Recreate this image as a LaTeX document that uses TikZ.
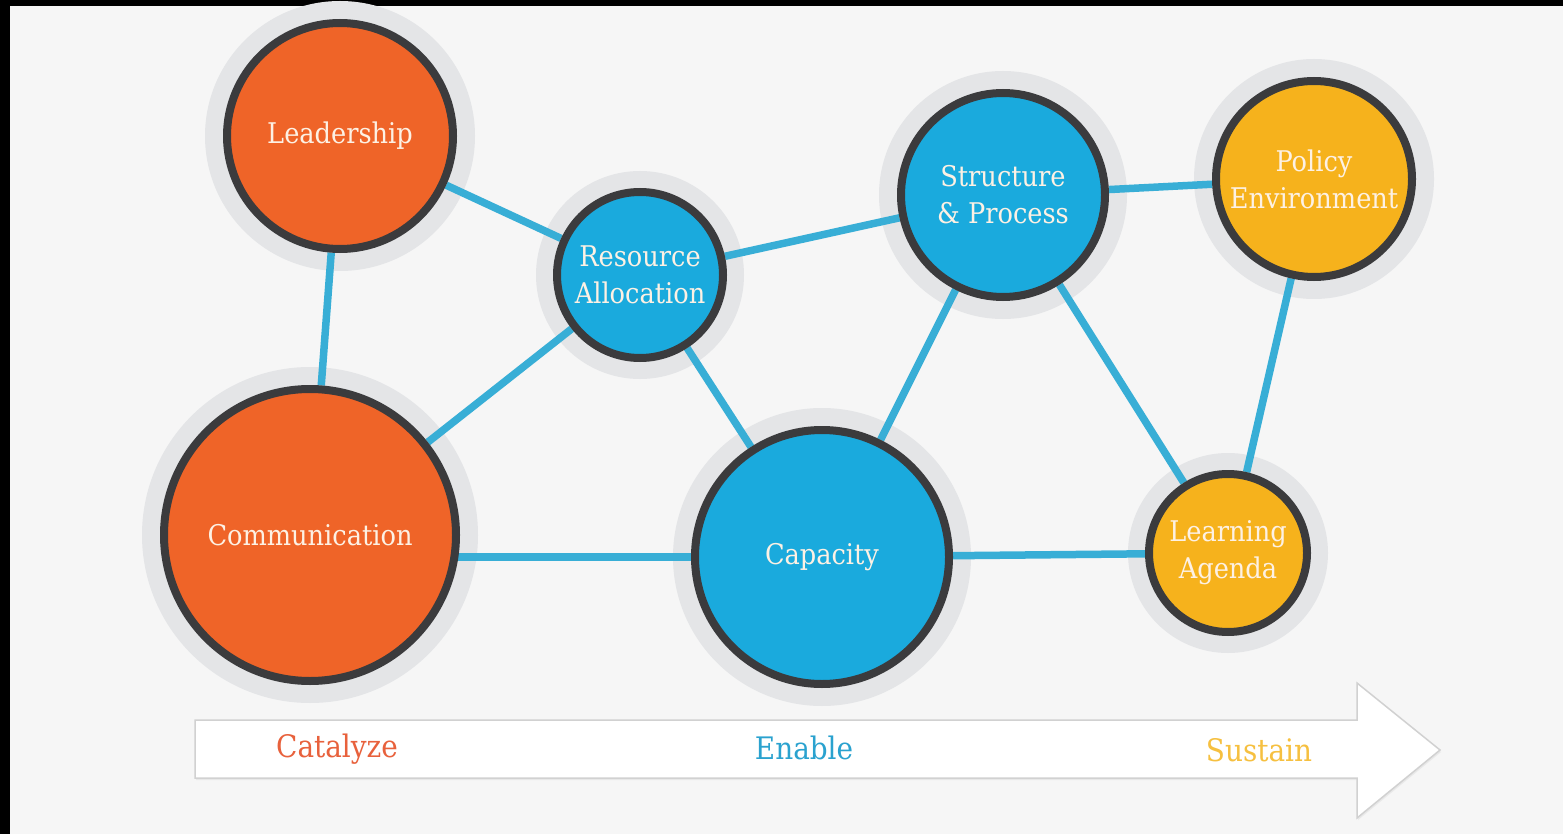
\documentclass[tikz,border=0pt]{standalone}
\usepackage{fontspec}
\newfontfamily\slab{DejaVu Serif Condensed}
\usetikzlibrary{shadows}
\definecolor{bg}{HTML}{F6F6F6}
\definecolor{orng}{HTML}{EF6428}
\definecolor{blu}{HTML}{1AAADD}
\definecolor{yel}{HTML}{F6B21C}
\definecolor{ring}{HTML}{3B3B3D}
\definecolor{link}{HTML}{38AED6}
\definecolor{haloc}{HTML}{E4E5E7}
\definecolor{txt}{HTML}{FDF1E4}
\definecolor{catc}{HTML}{E8613C}
\definecolor{enc}{HTML}{2AA2CF}
\definecolor{susc}{HTML}{F6C040}
\pgfdeclarelayer{bgl}
\pgfdeclarelayer{halo}
\pgfdeclarelayer{edges}
\pgfsetlayers{bgl,halo,edges,main}
\tikzset{
  hub/.style={circle, draw=ring, line width=8pt, inner sep=0pt, align=center,
    text=txt, font=\slab\fontsize{28.5}{37}\selectfont},
  link/.style={draw=link, line width=7.5pt},
  haloring/.style={fill=haloc},
  stage/.style={font=\slab\fontsize{31}{36}\selectfont}
}
\begin{document}
\begin{tikzpicture}[x=1pt,y=-1pt]
\useasboundingbox (0,0) rectangle (1563,834);
\begin{pgfonlayer}{bgl}
\fill[bg] (0,0) rectangle (1563,834);
\fill[black] (0,0) rectangle (1563,6);
\fill[black] (0,0) rectangle (10,834);
\end{pgfonlayer}

% nodes
\node[hub, fill=orng, minimum size=226pt] (lead) at (340,136) {Leadership};
\node[hub, fill=blu, minimum size=166pt] (res) at (640,275) {Resource\\Allocation};
\node[hub, fill=blu, minimum size=204pt] (str) at (1003,195) {Structure\\\& Process};
\node[hub, fill=yel, minimum size=196pt] (pol) at (1314,179) {Policy\\Environment};
\node[hub, fill=orng, minimum size=292pt] (comm) at (310,535) {Communication};
\node[hub, fill=blu, minimum size=254pt] (cap) at (822,557) {Capacity};
\node[hub, fill=yel, minimum size=158pt] (learn) at (1228,553) {Learning\\Agenda};

\begin{pgfonlayer}{halo}
  \fill[haloring] (lead.center) circle (135);
  \fill[haloring] (res.center) circle (104);
  \fill[haloring] (str.center) circle (124);
  \fill[haloring] (pol.center) circle (120);
  \fill[haloring] (comm.center) circle (168);
  \fill[haloring] (cap.center) circle (149);
  \fill[haloring] (learn.center) circle (100);
\end{pgfonlayer}

\begin{pgfonlayer}{edges}
  \draw[link] (lead) -- (comm);
  \draw[link] (lead) -- (res);
  \draw[link] (res) -- (comm);
  \draw[link] (res) -- (cap);
  \draw[link] (res) -- (str);
  \draw[link] (str) -- (pol);
  \draw[link] (str) -- (cap);
  \draw[link] (str) -- (learn);
  \draw[link] (pol) -- (learn);
  \draw[link] (cap) -- (cap -| comm);
  \draw[link] (cap) -- (learn);
\end{pgfonlayer}

% stage arrow
\draw[draw=black!18, line width=1.5pt, fill=white,
  drop shadow={shadow xshift=1pt, shadow yshift=-2pt, fill=black!12, opacity=0.6}]
  (195,720) -- (1357,720) -- (1357,683) -- (1440,750) -- (1357,818)
  -- (1357,778) -- (195,778) -- cycle;
\node[stage, text=catc] (cat) at (337,749) {Catalyze};
\node[stage, text=enc] (ena) at (804,748) {Enable};
\node[stage, text=susc] (sus) at (1259,750) {Sustain};
\end{tikzpicture}
\end{document}
